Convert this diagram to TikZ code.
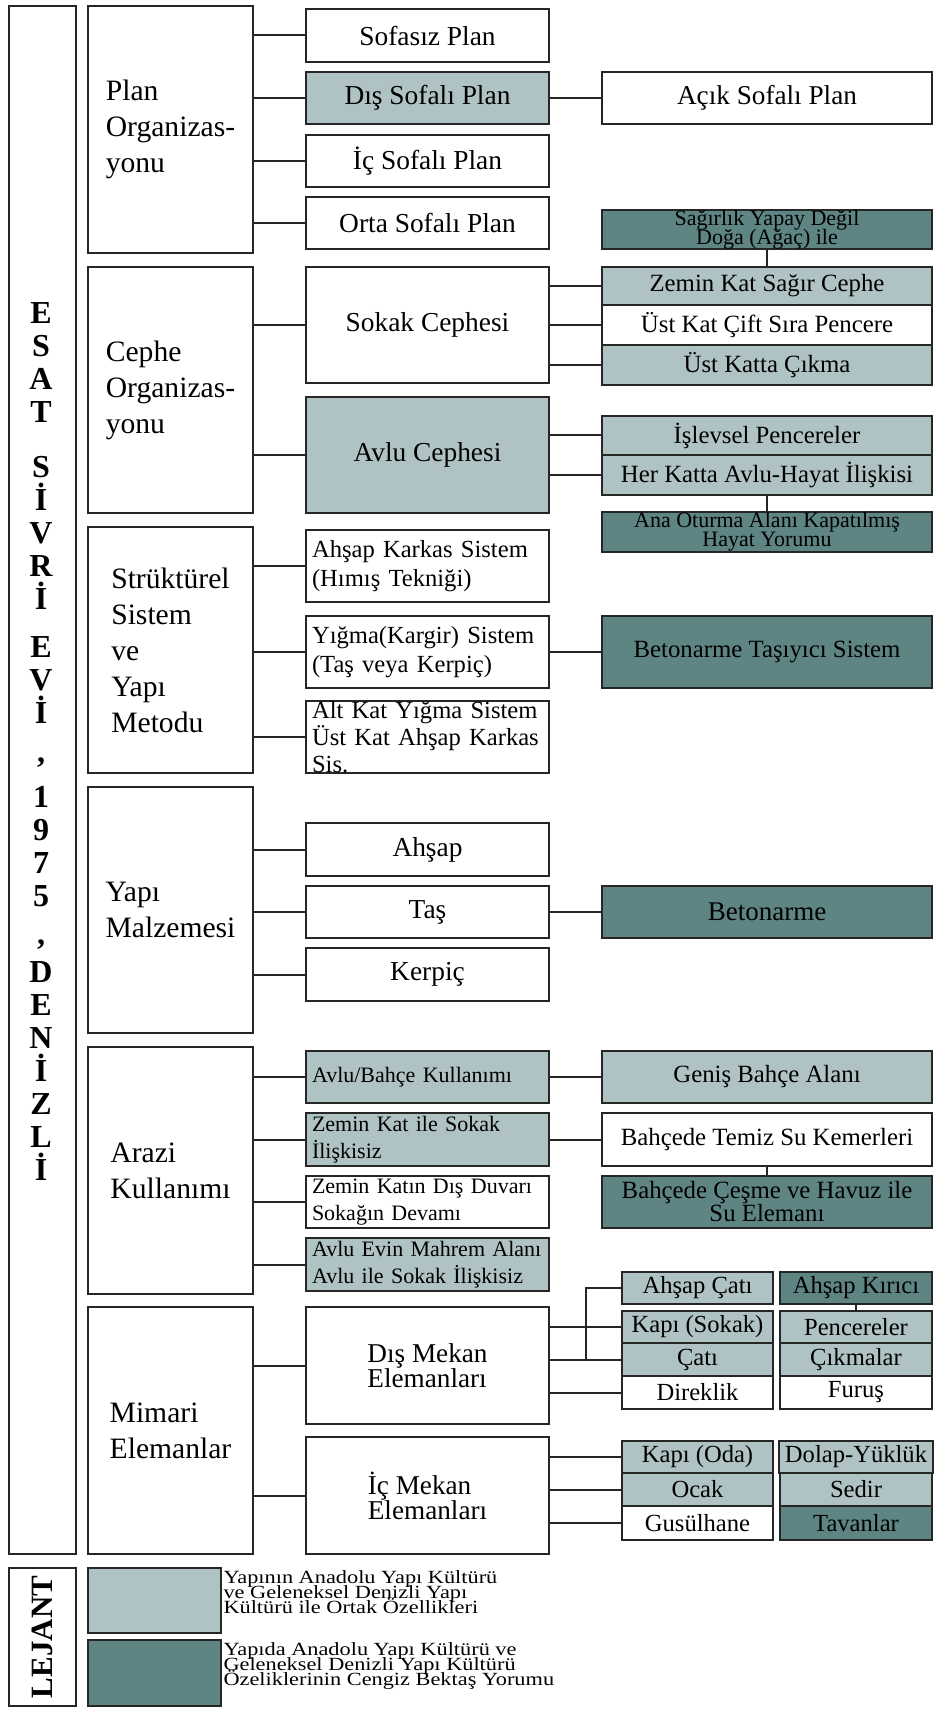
\documentclass[tikz,border=0pt]{standalone}
\usepackage{fontspec}
\setmainfont{Liberation Serif}[BoldFont={Liberation Serif Bold}]
\newfontfamily\lejantfont{Liberation Serif}[FakeStretch=1.2]
\definecolor{acik}{HTML}{AFC2C4}
\definecolor{koyu}{HTML}{5E8484}
\definecolor{cizgi}{HTML}{262626}
\tikzset{
  kutu/.style={draw=cizgi, line width=1.1pt, rectangle, inner xsep=3pt, inner ysep=1pt, align=center},
  anakutu/.style={kutu, minimum width=82.5pt, align=left, font=\fontsize{14.8}{18}\selectfont},
  altkutu/.style={kutu, minimum width=121.5pt, font=\fontsize{13.7}{16}\selectfont},
  solkutu/.style={kutu, text width=115.5pt, align=left, font=\fontsize{12.3}{14.5}\selectfont},
  uckutu/.style={kutu, minimum width=165pt, font=\fontsize{12.4}{14}\selectfont},
  kucukkutu/.style={kutu, minimum width=75.5pt, minimum height=16pt, font=\fontsize{12.3}{14}\selectfont},
  ince/.style={font=\fontsize{11}{13.5}\selectfont},
  sik/.style={inner ysep=-0.5pt, font={\fontsize{11}{9.5}\selectfont\lineskiplimit=-20pt}},
  lejantyazi/.style={anchor=north west, align=left, inner sep=0pt, font={\lejantfont\fontsize{9.3}{7.6}\selectfont\lineskiplimit=-20pt}},
  ortak/.style={fill=acik},
  yorum/.style={fill=koyu},
  bag/.style={draw=cizgi, line width=1pt}
}
\begin{document}
\begin{tikzpicture}[x=0.5pt,y=-0.5pt]
\useasboundingbox (0,0) rectangle (937,1711);

\node[kutu, minimum width=33.5pt, minimum height=774pt] (baslik) at (42.5,780) {};
\node[font=\bfseries\fontsize{16}{16.5}\selectfont, align=center, inner sep=0pt, anchor=north] (baslikyazi) at (41,302)
  {E\\S\\A\\T\\[11pt]S\\İ\\V\\R\\İ\\[7.5pt]E\\V\\İ\\[3pt],\\[6pt]1\\9\\7\\5\\[2.5pt],\\[2.5pt]D\\E\\N\\İ\\Z\\L\\İ};

\node[anakutu, minimum height=123.5pt] (plan) at (170.5,129.5) {Plan\\Organizas-\\yonu};
\node[anakutu, minimum height=123pt] (cephe) at (170.5,390) {Cephe\\Organizas-\\yonu};
\node[anakutu, minimum height=123pt] (strukturel) at (170.5,650) {Strüktürel\\Sistem\\ve\\Yapı\\Metodu};
\node[anakutu, minimum height=123pt] (malzeme) at (170.5,910) {Yapı\\Malzemesi};
\node[anakutu, minimum height=123.5pt] (arazi) at (170.5,1170.5) {Arazi\\Kullanımı};
\node[anakutu, minimum height=123.5pt] (mimari) at (170.5,1430.5) {Mimari\\Elemanlar};

\node[altkutu, minimum height=26.5pt] (sofasiz) at (427.5,35.5) {Sofasız Plan};
\node[altkutu, ortak, minimum height=26pt] (dissofa) at (427.5,98) {Dış Sofalı Plan};
\node[altkutu, minimum height=26pt] (icsofa) at (427.5,161) {İç Sofalı Plan};
\node[altkutu, minimum height=26pt] (ortasofa) at (427.5,223) {Orta Sofalı Plan};
\node[altkutu, minimum height=58pt] (sokak) at (427.5,325) {Sokak Cephesi};
\node[altkutu, ortak, minimum height=58pt] (avlucephe) at (427.5,455) {Avlu Cephesi};
\node[solkutu, minimum height=36pt] (ahsapkarkas) at (427.5,566) {Ahşap Karkas Sistem\\(Hımış Tekniği)};
\node[solkutu, minimum height=36pt] (yigma) at (427.5,652) {Yığma(Kargir) Sistem\\(Taş veya Kerpiç)};
\node[solkutu, minimum height=36pt, inner ysep=0pt, font=\fontsize{12.3}{13.5}\selectfont] (altkat) at (427.5,737) {Alt Kat Yığma Sistem\\Üst Kat Ahşap Karkas\\Sis.};
\node[altkutu, minimum height=26.5pt] (ahsap) at (427.5,849.5) {Ahşap};
\node[altkutu, minimum height=26pt] (tas) at (427.5,912) {Taş};
\node[altkutu, minimum height=26.5pt] (kerpic) at (427.5,974.5) {Kerpiç};
\node[solkutu, ortak, ince, minimum height=26pt] (avlubahce) at (427.5,1077) {Avlu/Bahçe Kullanımı};
\node[solkutu, ortak, ince, minimum height=26.5pt] (zeminsokak) at (427.5,1139.5) {Zemin Kat ile Sokak\\İlişkisiz};
\node[solkutu, ince, minimum height=26pt] (zemindis) at (427.5,1202) {Zemin Katın Dış Duvarı\\Sokağın Devamı};
\node[solkutu, ortak, ince, minimum height=26.5pt] (avluevin) at (427.5,1264.5) {Avlu Evin Mahrem Alanı\\Avlu ile Sokak İlişkisiz};
\node[altkutu, align=left, minimum height=58.5pt, font=\fontsize{13.6}{12.5}\selectfont] (dismekan) at (427.5,1365.5) {Dış Mekan\\Elemanları};
\node[altkutu, align=left, minimum height=58.5pt, font=\fontsize{13.6}{12.5}\selectfont] (icmekan) at (427.5,1495.5) {İç Mekan\\Elemanları};

\node[uckutu, minimum height=26pt, font=\fontsize{13.6}{16}\selectfont] (aciksofa) at (767,98) {Açık Sofalı Plan};
\node[uckutu, yorum, sik, minimum height=19.5pt] (sagirlik) at (767,229.5) {Sağırlık Yapay Değil\\Doğa (Ağaç) ile};
\node[uckutu, ortak, minimum height=19pt] (zeminsagir) at (767,286) {Zemin Kat Sağır Cephe};
\node[uckutu, minimum height=20pt] (ustcift) at (767,325) {Üst Kat Çift Sıra Pencere};
\node[uckutu, ortak, minimum height=20pt] (ustcikma) at (767,365) {Üst Katta Çıkma};
\node[uckutu, ortak, minimum height=19.5pt] (islevsel) at (767,435.5) {İşlevsel Pencereler};
\node[uckutu, ortak, minimum height=20pt] (herkat) at (767,475) {Her Katta Avlu-Hayat İlişkisi};
\node[uckutu, yorum, sik, minimum height=20pt] (anaoturma) at (767,532) {Ana Oturma Alanı Kapatılmış\\Hayat Yorumu};
\node[uckutu, yorum, minimum height=36pt] (betontasiyici) at (767,652) {Betonarme Taşıyıcı Sistem};
\node[uckutu, yorum, minimum height=26pt, font=\fontsize{13.5}{16}\selectfont] (betonarme) at (767,912) {Betonarme};
\node[uckutu, ortak, minimum height=26pt] (genis) at (767,1077) {Geniş Bahçe Alanı};
\node[uckutu, minimum height=26.5pt] (temizsu) at (767,1139.5) {Bahçede Temiz Su Kemerleri};
\node[uckutu, yorum, minimum height=26pt, font={\fontsize{12.4}{11.5}\selectfont\lineskiplimit=-20pt}] (cesme) at (767,1202) {Bahçede Çeşme ve Havuz ile\\Su Elemanı};

\node[kucukkutu, ortak, minimum height=16pt] (ahsapcati) at (697.5,1288) {Ahşap Çatı};
\node[kucukkutu, ortak] (kapisokak) at (697.5,1327) {Kapı (Sokak)};
\node[kucukkutu, ortak, minimum height=16.5pt] (cati) at (697.5,1359.5) {Çatı};
\node[kucukkutu, minimum height=16.5pt] (direklik) at (697.5,1392.5) {Direklik};
\node[kucukkutu, yorum, minimum width=76pt] (ahsapkirici) at (856,1288) {Ahşap Kırıcı};
\node[kucukkutu, ortak, minimum width=76pt] (pencereler) at (856,1327) {Pencereler};
\node[kucukkutu, ortak, minimum width=76pt, minimum height=16.5pt] (cikmalar) at (856,1359.5) {Çıkmalar};
\node[kucukkutu, minimum width=76pt, minimum height=16.5pt] (furus) at (856,1392.5) {Furuş};

\node[kucukkutu, ortak] (kapioda) at (697.5,1457) {Kapı (Oda)};
\node[kucukkutu, ortak, minimum height=16.5pt] (ocak) at (697.5,1489.5) {Ocak};
\node[kucukkutu, minimum height=17pt] (gusulhane) at (697.5,1523) {Gusülhane};
\node[kucukkutu, ortak, minimum width=76pt] (dolap) at (856,1457) {Dolap-Yüklük};
\node[kucukkutu, ortak, minimum width=76pt, minimum height=16.5pt] (sedir) at (856,1489.5) {Sedir};
\node[kucukkutu, yorum, minimum width=76pt, minimum height=17pt] (tavanlar) at (856,1523) {Tavanlar};

\path[bag] (plan.east |- sofasiz.west) -- (sofasiz.west);
\path[bag] (plan.east |- dissofa.west) -- (dissofa.west);
\path[bag] (plan.east |- icsofa.west) -- (icsofa.west);
\path[bag] (plan.east |- ortasofa.west) -- (ortasofa.west);
\path[bag] (dissofa.east) -- (aciksofa.west);
\path[bag] (cephe.east |- sokak.west) -- (sokak.west);
\path[bag] (cephe.east |- avlucephe.west) -- (avlucephe.west);
\path[bag] (sagirlik.south) -- (zeminsagir.north);
\path[bag] (sokak.east |- zeminsagir.west) -- (zeminsagir.west);
\path[bag] (sokak.east |- ustcift.west) -- (ustcift.west);
\path[bag] (sokak.east |- ustcikma.west) -- (ustcikma.west);
\path[bag] (avlucephe.east |- islevsel.west) -- (islevsel.west);
\path[bag] (avlucephe.east |- herkat.west) -- (herkat.west);
\path[bag] (herkat.south) -- (anaoturma.north);

\path[bag] (strukturel.east |- ahsapkarkas.west) -- (ahsapkarkas.west);
\path[bag] (strukturel.east |- yigma.west) -- (yigma.west);
\path[bag] (strukturel.east |- altkat.west) -- (altkat.west);
\path[bag] (yigma.east) -- (betontasiyici.west);

\path[bag] (malzeme.east |- ahsap.west) -- (ahsap.west);
\path[bag] (malzeme.east |- tas.west) -- (tas.west);
\path[bag] (malzeme.east |- kerpic.west) -- (kerpic.west);
\path[bag] (tas.east) -- (betonarme.west);

\path[bag] (arazi.east |- avlubahce.west) -- (avlubahce.west);
\path[bag] (arazi.east |- zeminsokak.west) -- (zeminsokak.west);
\path[bag] (arazi.east |- zemindis.west) -- (zemindis.west);
\path[bag] (arazi.east |- avluevin.west) -- (avluevin.west);
\path[bag] (avlubahce.east) -- (genis.west);
\path[bag] (zeminsokak.east) -- (temizsu.west);
\path[bag] (temizsu.south) -- (cesme.north);

\path[bag] (mimari.east |- dismekan.west) -- (dismekan.west);
\path[bag] (mimari.east |- icmekan.west) -- (icmekan.west);
\path[bag] (dismekan.east |- kapisokak.west) -- (kapisokak.west);
\path[bag] (dismekan.east |- cati.west) -- (cati.west);
\path[bag] (dismekan.east |- direklik.west) -- (direklik.west);
\coordinate (catidirsek) at (586,1359.5);
\path[bag] (catidirsek) |- (ahsapcati.west);
\path[bag] (ahsapkirici.south) -- (pencereler.north);
\path[bag] (icmekan.east |- kapioda.west) -- (kapioda.west);
\path[bag] (icmekan.east |- ocak.west) -- (ocak.west);
\path[bag] (icmekan.east |- gusulhane.west) -- (gusulhane.west);

\node[kutu, rotate=90, minimum width=69pt, minimum height=33.5pt, font=\bfseries\fontsize{15.5}{16}\selectfont] (lejant) at (42.5,1637) {LEJANT};
\node[kutu, ortak, minimum width=66.5pt, minimum height=32.5pt] (lejantacik) at (154.5,1600.5) {};
\node[kutu, yorum, minimum width=66.5pt, minimum height=33pt] (lejantkoyu) at (154.5,1673) {};
\node[lejantyazi] (acikyazi) at ([xshift=0.5pt,yshift=-1.5pt]lejantacik.north east)
  {Yapının Anadolu Yapı Kültürü\\ve Geleneksel Denizli Yapı\\Kültürü ile Ortak Özellikleri};
\node[lejantyazi] (koyuyazi) at ([xshift=0.5pt,yshift=-1.5pt]lejantkoyu.north east)
  {Yapıda Anadolu Yapı Kültürü ve\\Geleneksel Denizli Yapı Kültürü\\Özeliklerinin Cengiz Bektaş Yorumu};
\end{tikzpicture}
\end{document}
